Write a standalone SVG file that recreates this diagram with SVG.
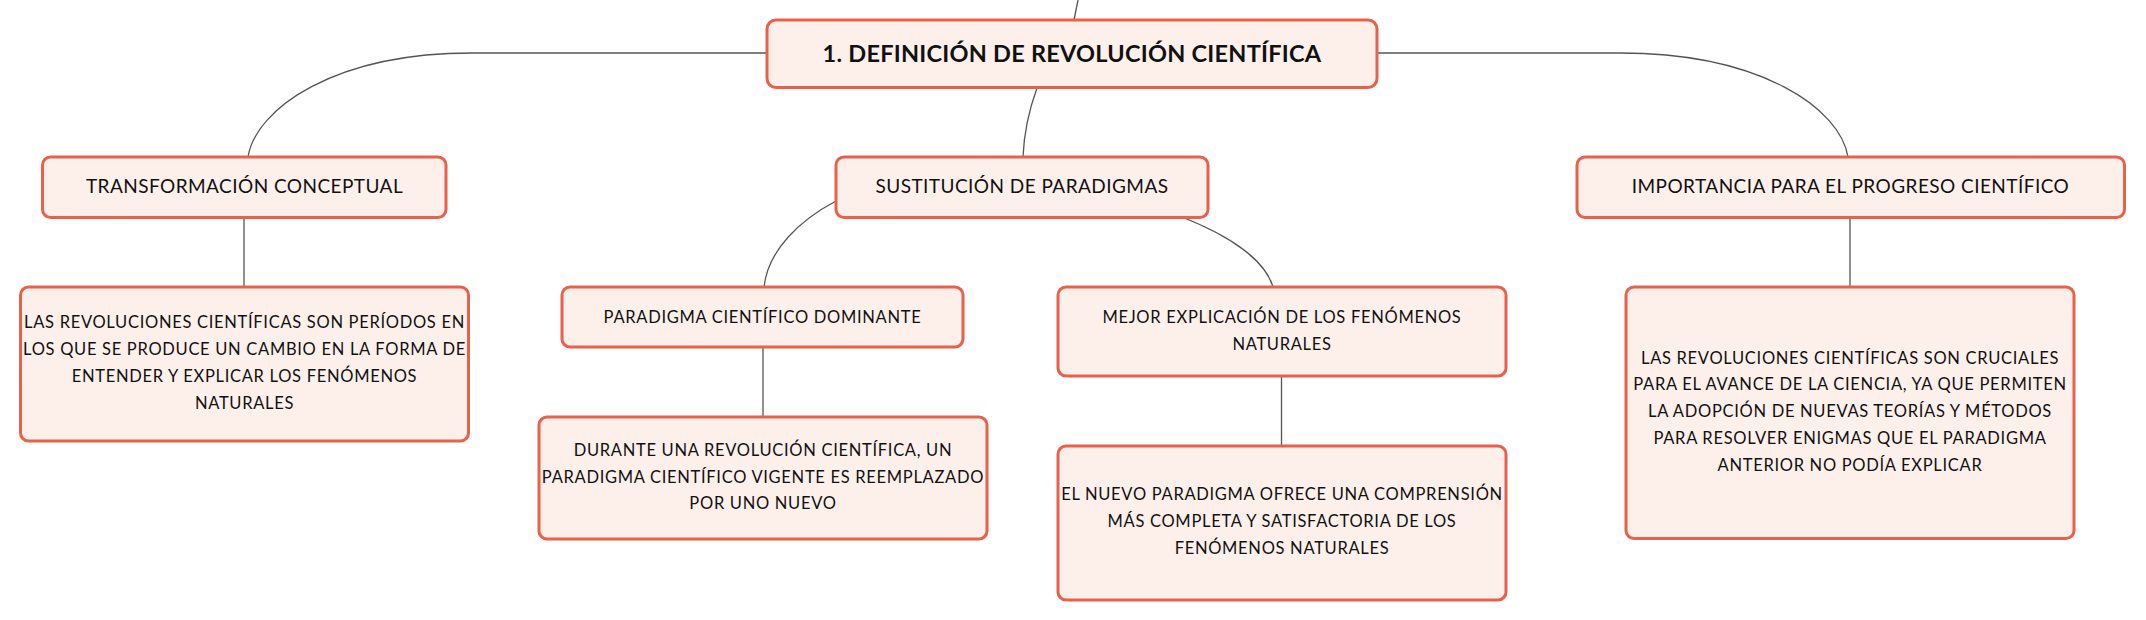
<svg xmlns="http://www.w3.org/2000/svg" width="2146" height="620" viewBox="0 0 2146 620">
<style>
.box{fill:#FDF0EB;stroke:#E9604B;stroke-width:3}
.t{font-family:Lato,"Open Sans","Liberation Sans",sans-serif;fill:#111;text-anchor:middle}
.h{font-size:19px;letter-spacing:0.45px}
.s{font-size:16.5px;letter-spacing:0.7px}
.title{font-size:23.5px;font-weight:bold;letter-spacing:0.25px}
.c{fill:none;stroke:#555;stroke-width:1.3}
</style>
<rect width="2146" height="620" fill="#fff"/>
<g id="connectors">
<path class="c" d="M1078 0 L1074 20"/>
<path class="c" d="M766 53 H472 C335 53 256 108 248 157"/>
<path class="c" d="M1377 53 H1620 C1760 53 1840 108 1848 157"/>
<path class="c" d="M1037 88 C1029 110 1024 132 1023 157"/>
<path class="c" d="M836 201 C800 220 768 250 764 287"/>
<path class="c" d="M1182 217 C1230 236 1265 260 1273 287"/>
<path class="c" d="M244 218 V287"/>
<path class="c" d="M1850 218 V287"/>
<path class="c" d="M763 347 V417"/>
<path class="c" d="M1281.5 376 V446"/>
</g>
<g id="n_root">
<rect class="box" x="767" y="20" width="610" height="67.5" rx="9"/>
<text class="t title" x="1072" y="62">1. DEFINICIÓN DE REVOLUCIÓN CIENTÍFICA</text>
</g>
<g id="n_transformacion">
<rect class="box" x="42.5" y="157" width="403.5" height="60.5" rx="8"/>
<text class="t h" x="244.5" y="193">TRANSFORMACIÓN CONCEPTUAL</text>
</g>
<g id="n_sustitucion">
<rect class="box" x="836" y="157" width="372" height="60.5" rx="8"/>
<text class="t h" x="1022" y="193">SUSTITUCIÓN DE PARADIGMAS</text>
</g>
<g id="n_importancia">
<rect class="box" x="1577" y="157" width="547.5" height="60.5" rx="8"/>
<text class="t h" x="1850.5" y="193">IMPORTANCIA PARA EL PROGRESO CIENTÍFICO</text>
</g>
<g id="n_desc1">
<rect class="box" x="20.5" y="287" width="448" height="154" rx="8"/>
<text class="t s" x="244.5" y="328">LAS REVOLUCIONES CIENTÍFICAS SON PERÍODOS EN</text>
<text class="t s" x="244.5" y="355">LOS QUE SE PRODUCE UN CAMBIO EN LA FORMA DE</text>
<text class="t s" x="244.5" y="382">ENTENDER Y EXPLICAR LOS FENÓMENOS</text>
<text class="t s" x="244.5" y="409">NATURALES</text>
</g>
<g id="n_paradigma">
<rect class="box" x="562" y="287" width="401" height="60" rx="8"/>
<text class="t s" x="762.5" y="323">PARADIGMA CIENTÍFICO DOMINANTE</text>
</g>
<g id="n_mejor">
<rect class="box" x="1058" y="287" width="448" height="89" rx="8"/>
<text class="t s" x="1282" y="323">MEJOR EXPLICACIÓN DE LOS FENÓMENOS</text>
<text class="t s" x="1282" y="349.5">NATURALES</text>
</g>
<g id="n_durante">
<rect class="box" x="539" y="417" width="448" height="122" rx="8"/>
<text class="t s" x="763" y="456">DURANTE UNA REVOLUCIÓN CIENTÍFICA, UN</text>
<text class="t s" x="763" y="482.5">PARADIGMA CIENTÍFICO VIGENTE ES REEMPLAZADO</text>
<text class="t s" x="763" y="509">POR UNO NUEVO</text>
</g>
<g id="n_nuevo">
<rect class="box" x="1058" y="446" width="448" height="154" rx="8"/>
<text class="t s" x="1282" y="500">EL NUEVO PARADIGMA OFRECE UNA COMPRENSIÓN</text>
<text class="t s" x="1282" y="527">MÁS COMPLETA Y SATISFACTORIA DE LOS</text>
<text class="t s" x="1282" y="554">FENÓMENOS NATURALES</text>
</g>
<g id="n_desc3">
<rect class="box" x="1626" y="287" width="448" height="251.5" rx="8"/>
<text class="t s" x="1850" y="363.5">LAS REVOLUCIONES CIENTÍFICAS SON CRUCIALES</text>
<text class="t s" x="1850" y="390">PARA EL AVANCE DE LA CIENCIA, YA QUE PERMITEN</text>
<text class="t s" x="1850" y="417">LA ADOPCIÓN DE NUEVAS TEORÍAS Y MÉTODOS</text>
<text class="t s" x="1850" y="444">PARA RESOLVER ENIGMAS QUE EL PARADIGMA</text>
<text class="t s" x="1850" y="471">ANTERIOR NO PODÍA EXPLICAR</text>
</g>
</svg>
